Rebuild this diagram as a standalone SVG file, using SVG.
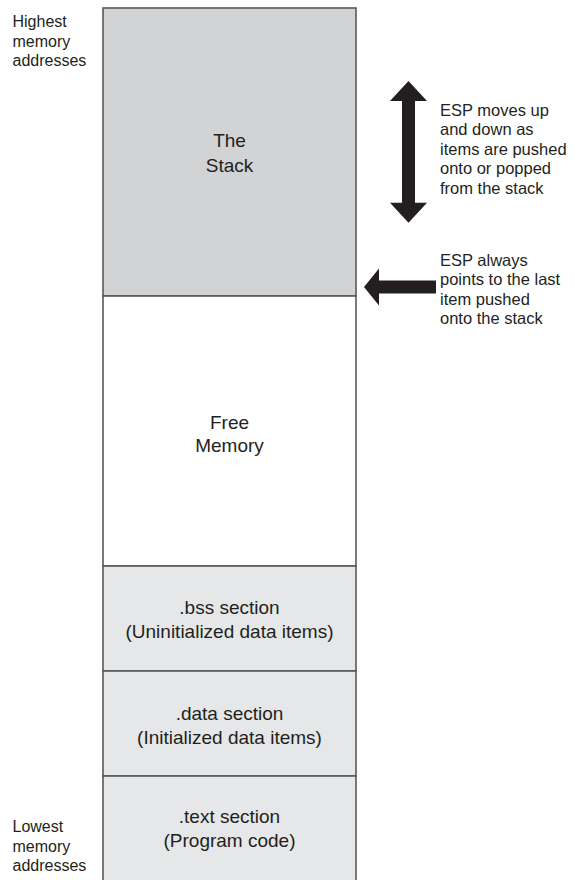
<svg xmlns="http://www.w3.org/2000/svg" width="575" height="880" viewBox="0 0 575 880">
<style>
text{font-family:"Liberation Sans",Arial,sans-serif;fill:#231f20}
.lbl{font-size:19px;text-anchor:middle}
.side{font-size:16px}
.note{font-size:16.5px}
.box{stroke:#58595b;stroke-width:1.6}
.arrow{fill:#231f20}
</style>
<rect width="575" height="880" fill="#fff"/>
<g id="stack">
<rect class="box" x="103" y="8" width="253" height="288" fill="#d1d3d4"/>
<text class="lbl" x="229.5" y="147">The</text>
<text class="lbl" x="229.5" y="172">Stack</text>
</g>
<g id="free-memory">
<rect class="box" x="103" y="296" width="253" height="270" fill="#ffffff"/>
<text class="lbl" x="229.5" y="429">Free</text>
<text class="lbl" x="229.5" y="452">Memory</text>
</g>
<g id="bss">
<rect class="box" x="103" y="566" width="253" height="105" fill="#e6e7e8"/>
<text class="lbl" x="229.5" y="614">.bss section</text>
<text class="lbl" x="229.5" y="638">(Uninitialized data items)</text>
</g>
<g id="data">
<rect class="box" x="103" y="671" width="253" height="105" fill="#e6e7e8"/>
<text class="lbl" x="229.5" y="720">.data section</text>
<text class="lbl" x="229.5" y="744">(Initialized data items)</text>
</g>
<g id="text-section">
<rect class="box" x="103" y="776" width="253" height="110" fill="#e6e7e8"/>
<text class="lbl" x="229.5" y="823">.text section</text>
<text class="lbl" x="229.5" y="847">(Program code)</text>
</g>
<g id="highest-label">
<text class="side" x="12.5" y="27">Highest</text>
<text class="side" x="12.5" y="46.5">memory</text>
<text class="side" x="12.5" y="66">addresses</text>
</g>
<g id="lowest-label">
<text class="side" x="12.5" y="832">Lowest</text>
<text class="side" x="12.5" y="851.5">memory</text>
<text class="side" x="12.5" y="871">addresses</text>
</g>
<g id="esp-moves-label">
<text class="note" x="440" y="116">ESP moves up</text>
<text class="note" x="440" y="135.4">and down as</text>
<text class="note" x="440" y="154.8">items are pushed</text>
<text class="note" x="440" y="174.2">onto or popped</text>
<text class="note" x="440" y="193.6">from the stack</text>
</g>
<g id="esp-points-label">
<text class="note" x="440" y="266">ESP always</text>
<text class="note" x="440" y="285.4">points to the last</text>
<text class="note" x="440" y="304.8">item pushed</text>
<text class="note" x="440" y="324.2">onto the stack</text>
</g>
<g id="connectors">
<polygon class="arrow" points="408.5,81 390,101 402,101 402,202.7 390,202.7 408.5,222.7 427,202.7 415,202.7 415,101 427,101"/>
<polygon class="arrow" points="364,287 379,268.5 379,280.5 436,280.5 436,293.5 379,293.5 379,305.5"/>
</g>
</svg>
